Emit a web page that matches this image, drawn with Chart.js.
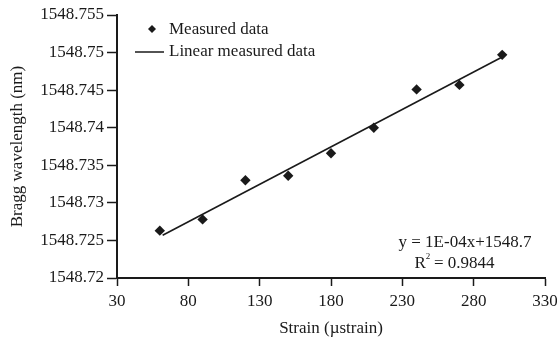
<!DOCTYPE html>
<html lang="en">
<head>
    <meta charset="UTF-8">
    <script src="https://cdn.jsdelivr.net/npm/chart.js"></script>
    <title>Bragg wavelength vs strain</title>
    <style>
        body {
            margin: 0;
            background: #fff;
        }
        #wrap {
            width: 557px;
            height: 343px;
            position: relative;
        }
    </style>
</head>
<body>
<div id="wrap">
    <canvas id="braggChart"></canvas>
</div>
<script>
    // values
    const strain = [60, 90, 120, 150, 180, 210, 240, 270, 300];
    const wavelength = [1548.7263, 1548.7278, 1548.7330, 1548.7336, 1548.7366, 1548.7400, 1548.7451, 1548.7457, 1548.7497];
    const fitStrain = [62, 300];
    const fitWavelength = [1548.7257, 1548.7494];
    const xTicks = [30, 80, 130, 180, 230, 280, 330];
    const yTicks = [1548.72, 1548.725, 1548.73, 1548.735, 1548.74, 1548.745, 1548.75, 1548.755];

    const serif = "'Liberation Serif', 'DejaVu Serif', serif";
    const ink = '#1a1a1a';
    const fs = 17;

    const toPoints = (xs, ys) => xs.map((x, i) => ({x: x, y: ys[i]}));

    // legend + trendline equation, drawn like the original Excel figure
    const annotations = {
        id: 'annotations',
        afterDraw(chart) {
            const ctx = chart.ctx;
            ctx.save();
            ctx.fillStyle = ink;
            ctx.strokeStyle = ink;
            ctx.font = fs + 'px ' + serif;
            ctx.textBaseline = 'middle';
            ctx.textAlign = 'left';

            // legend
            ctx.beginPath();
            ctx.moveTo(152, 25);
            ctx.lineTo(156, 29);
            ctx.lineTo(152, 33);
            ctx.lineTo(148, 29);
            ctx.closePath();
            ctx.fill();
            ctx.fillText('Measured data', 169, 30);

            ctx.lineWidth = 1.5;
            ctx.beginPath();
            ctx.moveTo(135, 52);
            ctx.lineTo(164, 52);
            ctx.stroke();
            ctx.fillText('Linear measured data', 169, 52);

            // equation
            ctx.textAlign = 'center';
            ctx.fillText('y = 1E-04x+1548.7', 465, 243);
            const r2 = ' = 0.9844';
            const rw = ctx.measureText('R').width;
            const tw = ctx.measureText(r2).width;
            const left = 455 - (rw + 5 + tw) / 2;
            ctx.textAlign = 'left';
            ctx.fillText('R', left, 264);
            ctx.font = '9px ' + serif;
            ctx.fillText('2', left + rw, 257);
            ctx.font = fs + 'px ' + serif;
            ctx.fillText(r2, left + rw + 4, 264);
            ctx.restore();
        }
    };

    new Chart(document.getElementById('braggChart'), {
        type: 'scatter',
        data: {
            datasets: [{
                label: 'Measured data',
                data: toPoints(strain, wavelength),
                pointStyle: 'rectRot',
                pointRadius: 5.2,
                pointBackgroundColor: ink,
                pointBorderColor: ink,
                pointBorderWidth: 0,
                order: 1
            }, {
                label: 'Linear measured data',
                data: toPoints(fitStrain, fitWavelength),
                showLine: true,
                borderColor: ink,
                borderWidth: 1.6,
                pointRadius: 0,
                order: 2
            }]
        },
        options: {
            responsive: true,
            maintainAspectRatio: false,
            animation: false,
            layout: {
                padding: {top: 15, right: 12, left: 0, bottom: 0}
            },
            plugins: {
                legend: {display: false},
                tooltip: {enabled: false}
            },
            scales: {
                x: {
                    type: 'linear',
                    min: 30,
                    max: 330,
                    afterBuildTicks: s => { s.ticks = xTicks.map(v => ({value: v})); },
                    afterFit: s => {
                        s.height = 65;
                        s.paddingLeft = 0;
                        s.paddingRight = 0;
                    },
                    grid: {
                        drawOnChartArea: false,
                        tickLength: 8,
                        tickWidth: 1.5,
                        color: ink
                    },
                    border: {color: ink, width: 2},
                    ticks: {
                        color: ink,
                        font: {family: serif, size: fs},
                        padding: 5,
                        maxRotation: 0
                    },
                    title: {
                        display: true,
                        text: 'Strain (µstrain)',
                        color: ink,
                        font: {family: serif, size: fs},
                        padding: {top: 0, bottom: 4}
                    }
                },
                y: {
                    type: 'linear',
                    min: 1548.72,
                    max: 1548.755,
                    afterBuildTicks: s => { s.ticks = yTicks.map(v => ({value: v})); },
                    afterFit: s => { s.width = 117; },
                    grid: {
                        drawOnChartArea: false,
                        tickLength: 10,
                        tickWidth: 1.5,
                        color: ink
                    },
                    border: {color: ink, width: 2},
                    ticks: {
                        color: ink,
                        font: {family: serif, size: fs},
                        padding: 3,
                        callback: v => String(parseFloat(v.toFixed(3)))
                    },
                    title: {
                        display: true,
                        text: 'Bragg wavelength (nm)',
                        color: ink,
                        font: {family: serif, size: fs},
                        padding: {top: 7, bottom: 0}
                    }
                }
            }
        },
        plugins: [annotations]
    });
</script>
</body>
</html>
